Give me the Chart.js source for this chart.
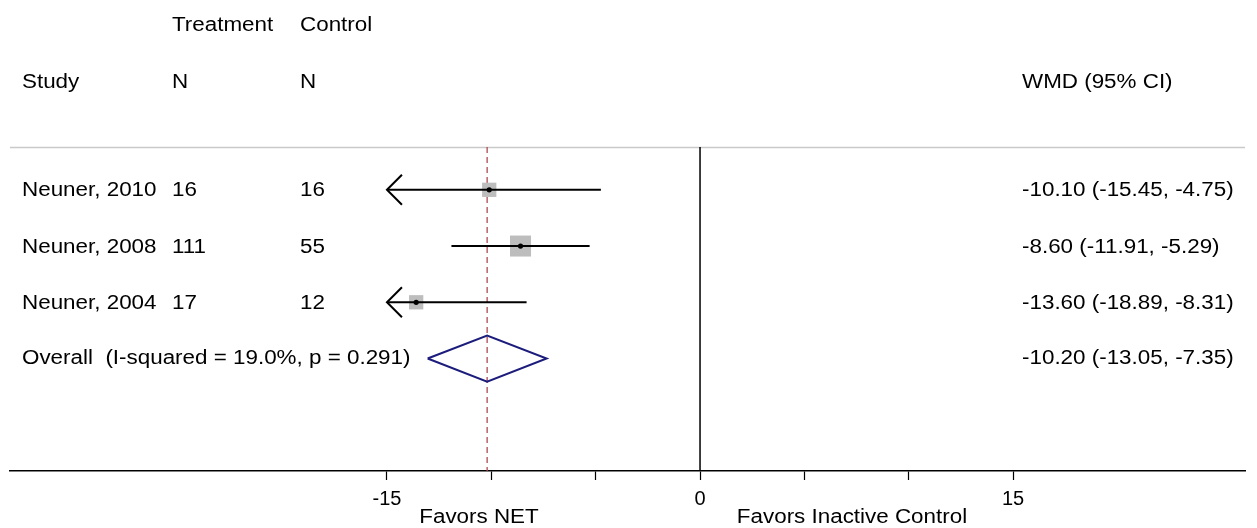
<!DOCTYPE html>
<html><head><meta charset="utf-8">
<script src="https://cdn.jsdelivr.net/npm/chart.js@4"></script>
<style>html,body{margin:0;padding:0;background:#fff}#wrap{width:1257px;height:528px}</style>
</head><body><div id="wrap"><canvas id="c" width="1257" height="528"></canvas></div>
<script>
// ---- data ----
const studies = ["Neuner, 2010", "Neuner, 2008", "Neuner, 2004"];
const treatmentN = [16, 111, 17];
const controlN = [16, 55, 12];
const wmd = [-10.10, -8.60, -13.60];
const ciLow = [-15.45, -11.91, -18.89];
const ciHigh = [-4.75, -5.29, -8.31];
const weights = [24, 52, 24];
const overallLabel = "Overall  (I-squared = 19.0%, p = 0.291)";
const overallWmd = [-10.20];
const overallLow = [-13.05];
const overallHigh = [-7.35];
const xTicks = [-15, -10, -5, 0, 5, 10, 15];
const xTickLabels = ["-15", "", "", "0", "", "", "15"];
const headerTop = ["Treatment", "Control"];
const headerBottom = ["Study", "N", "N", "WMD (95% CI)"];
const favorsLabels = ["Favors NET", "Favors Inactive Control"];

// ---- layout helpers ----
const FONT = '"Liberation Sans", Arial, Helvetica, sans-serif';
const clipMin = -15;
const rows = studies.map((_, i) => i + 1);
const overallRow = studies.length + 1;
const sepRow = 0.24;
const axisRow = 6;
const diamondHalf = 0.41;

const ciDatasets = studies.map((s, i) => ({
  type: 'scatter', showLine: true, order: 3,
  data: [{x: Math.max(ciLow[i], clipMin), y: rows[i]}, {x: ciHigh[i], y: rows[i]}],
  borderColor: '#000', borderWidth: 2, pointRadius: 0
}));

const boxRadius = weights.map(w => 2.06 * Math.sqrt(w));

const config = {
  type: 'scatter',
  data: {
    datasets: [
      { // zero line
        showLine: true, order: 10,
        data: [{x: 0, y: sepRow}, {x: 0, y: axisRow}],
        borderColor: '#000', borderWidth: 1.5, pointRadius: 0
      },
      { // overall dashed line
        showLine: true, order: 9,
        data: [{x: overallWmd[0], y: sepRow}, {x: overallWmd[0], y: axisRow}],
        borderColor: '#b04a52', borderWidth: 1.3, borderDash: [6, 4], pointRadius: 0
      },
      { // weight boxes
        order: 5,
        data: studies.map((s, i) => ({x: wmd[i], y: rows[i]})),
        pointStyle: 'rect', pointRadius: boxRadius, borderWidth: 0,
        backgroundColor: '#bdbdbd'
      },
      ...ciDatasets,
      { // point estimates
        order: 1,
        data: studies.map((s, i) => ({x: wmd[i], y: rows[i]})),
        pointStyle: 'circle', pointRadius: 2.6, backgroundColor: '#000', borderWidth: 0
      },
      { // overall diamond
        showLine: true, order: 2,
        data: [
          {x: overallLow[0], y: overallRow},
          {x: overallWmd[0], y: overallRow - diamondHalf},
          {x: overallHigh[0], y: overallRow},
          {x: overallWmd[0], y: overallRow + diamondHalf},
          {x: overallLow[0], y: overallRow}
        ],
        borderColor: '#1c1c7c', borderWidth: 2, pointRadius: 0, tension: 0,
        borderJoinStyle: 'miter'
      }
    ]
  },
  options: {
    responsive: false, animation: false, devicePixelRatio: 1,
    layout: {autoPadding: false, padding: {left: 10, right: 12, top: 0, bottom: 0}},
    plugins: {legend: {display: false}, tooltip: {enabled: false}},
    scales: {
      x: {
        type: 'linear', min: -33.06, max: 26.11, position: 'bottom',
        afterBuildTicks: s => { s.ticks = xTicks.map(v => ({value: v})); },
        afterFit: s => { s.height = 57; },
        ticks: {
          autoSkip: false, maxRotation: 0, padding: 7, color: '#000',
          font: {family: FONT, size: 20},
          callback: (v) => { const k = xTicks.indexOf(v); return k >= 0 ? xTickLabels[k] : ''; }
        },
        grid: {drawOnChartArea: false, drawTicks: true, tickLength: 9, tickColor: '#000', tickWidth: 1.2},
        border: {display: true, color: '#000', width: 1.5}
      },
      y: {
        type: 'linear', reverse: true, min: -2.375, max: axisRow, display: false
      }
    }
  },
  plugins: [{
    id: 'forestText',
    beforeDatasetsDraw(chart) {
      const ctx = chart.ctx, ys = chart.scales.y, a = chart.chartArea;
      const y = Math.round(ys.getPixelForValue(sepRow)) + 0.5;
      ctx.save();
      ctx.strokeStyle = '#c9c9c9'; ctx.lineWidth = 1.5;
      ctx.beginPath(); ctx.moveTo(a.left, y); ctx.lineTo(a.right, y); ctx.stroke();
      ctx.restore();
    },
    afterDatasetsDraw(chart) {
      const ctx = chart.ctx, xs = chart.scales.x, ys = chart.scales.y;
      // arrows for clipped intervals
      ctx.save();
      ctx.strokeStyle = '#000'; ctx.lineWidth = 2;
      studies.forEach((s, i) => {
        if (ciLow[i] < clipMin) {
          const px = xs.getPixelForValue(clipMin), py = ys.getPixelForValue(rows[i]);
          ctx.beginPath();
          ctx.moveTo(px + 15, py - 15); ctx.lineTo(px, py); ctx.lineTo(px + 15, py + 15);
          ctx.stroke();
        }
      });
      ctx.restore();

      const txt = (str, x, y, align) => {
        ctx.save();
        ctx.font = '20px ' + FONT;
        ctx.fillStyle = '#000';
        ctx.textBaseline = 'middle';
        ctx.textAlign = align || 'left';
        ctx.translate(x, y);
        ctx.scale(1.12, 1);
        ctx.fillText(str, 0, 0);
        ctx.restore();
      };
      const colStudy = 22, colT = 172, colC = 300, colW = 1022;
      txt(headerTop[0], colT, 25);
      txt(headerTop[1], colC, 25);
      txt(headerBottom[0], colStudy, 82);
      txt(headerBottom[1], colT, 82);
      txt(headerBottom[2], colC, 82);
      txt(headerBottom[3], colW, 82);
      studies.forEach((s, i) => {
        const py = ys.getPixelForValue(rows[i]) + 1;
        txt(s, colStudy, py);
        txt(String(treatmentN[i]), colT, py);
        txt(String(controlN[i]), colC, py);
        txt(`${wmd[i].toFixed(2)} (${ciLow[i].toFixed(2)}, ${ciHigh[i].toFixed(2)})`, colW, py);
      });
      const oy = ys.getPixelForValue(overallRow);
      txt(overallLabel, colStudy, oy);
      txt(`${overallWmd[0].toFixed(2)} (${overallLow[0].toFixed(2)}, ${overallHigh[0].toFixed(2)})`, colW, oy);
      txt(favorsLabels[0], 479, 517, 'center');
      txt(favorsLabels[1], 852, 517, 'center');
    }
  }]
};
new Chart(document.getElementById('c'), config);
</script>
</body></html>
